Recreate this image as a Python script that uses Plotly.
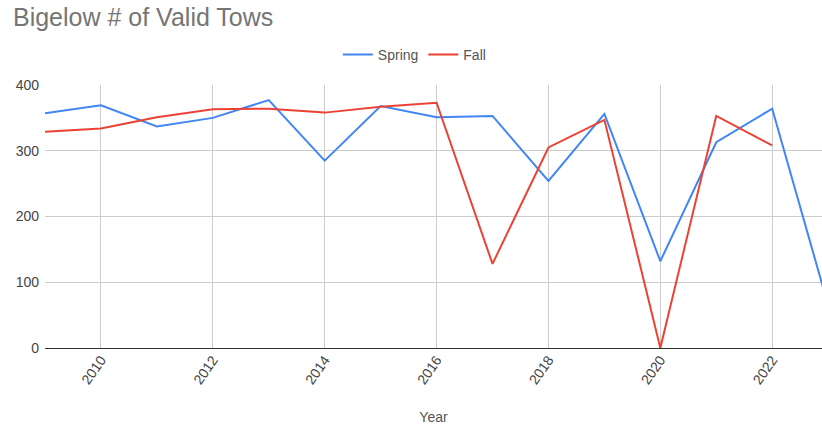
import plotly.graph_objects as go

years = list(range(2009, 2024))
spring = [357, 369, 337, 350, 377, 285, 368, 351, 353, 254, 356, 132, 313, 364, 65]
fall_years = list(range(2009, 2023))
fall = [329, 334, 351, 363, 364, 358, 367, 373, 128, 305, 347, 0, 353, 308]

fig = go.Figure()
fig.add_trace(go.Scatter(x=years, y=spring, name="Spring", mode="lines",
                         line=dict(color="#4285F4", width=2)))
fig.add_trace(go.Scatter(x=fall_years, y=fall, name="Fall", mode="lines",
                         line=dict(color="#EA4335", width=2)))

fig.update_layout(
    width=822, height=425,
    margin=dict(l=45, r=0, t=85, b=77, autoexpand=False),
    paper_bgcolor="white", plot_bgcolor="white",
    font=dict(family="Liberation Sans, Arial, sans-serif", color="#444444", size=14),
    title=dict(text="Bigelow # of Valid Tows", x=0.0158, xanchor="left", y=0.96, yanchor="middle",
               font=dict(size=25, color="#757575")),
    legend=dict(orientation="h", x=0.476, xanchor="center", y=1.114, yanchor="middle",
                font=dict(size=14, color="#555555"), itemwidth=30),
    xaxis=dict(range=[2009, 2022.89], tickmode="array", tickvals=list(range(2010, 2023, 2)),
               ticktext=[str(v) for v in range(2010, 2023, 2)],
               tickangle=-55, showgrid=True, gridcolor="#cccccc", gridwidth=1,
               zeroline=False, showline=False, ticks="",
               title=dict(text="Year", font=dict(size=14, color="#555555"), standoff=26),
               tickfont=dict(size=14, color="#444444")),
    yaxis=dict(range=[0, 400], tickvals=[0, 100, 200, 300, 400], showgrid=True,
               gridcolor="#cccccc", gridwidth=1, zeroline=True, zerolinecolor="#333333",
               zerolinewidth=1, ticks="", showline=False, ticklabelstandoff=5,
               tickfont=dict(size=14, color="#444444")),
)

fig.write_html("out.html", config={"displayModeBar": False},
               post_script="document.body.style.margin='0';document.body.style.overflow='hidden';")
